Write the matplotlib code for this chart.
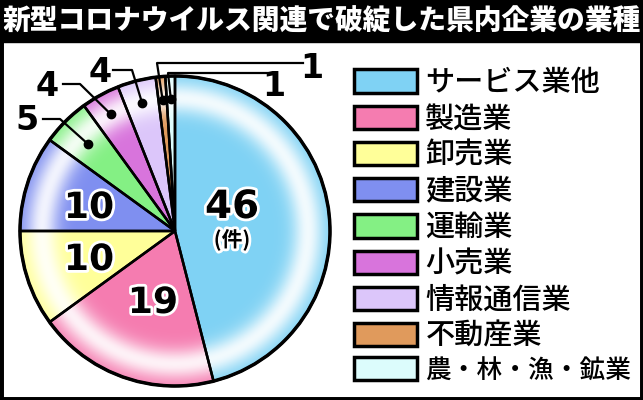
import numpy as np
import matplotlib.pyplot as plt
from matplotlib.patches import Rectangle, Circle, Patch
import matplotlib.patheffects as pe

plt.rcParams['font.family'] = ['Noto Sans CJK JP', 'DejaVu Sans']

# ===== DATA =====
title = "新型コロナウイルス関連で破綻した県内企業の業種"
categories = ["サービス業他", "製造業", "卸売業", "建設業", "運輸業",
              "小売業", "情報通信業", "不動産業", "農・林・漁・鉱業"]
counts = [46, 19, 10, 10, 5, 4, 4, 1, 1]
colors = ["#7fd2f4", "#f57cb0", "#ffff99", "#7f8ff0", "#84f084",
          "#d874dc", "#dcc6fa", "#e09a5c", "#dcfcfc"]

# ===== SETUP (pixel coordinates, y measured from the top) =====
W, H = 643, 400


def py(y):
    return H - y


fig = plt.figure(figsize=(W / 100, H / 100), dpi=100)
ax = fig.add_axes([0, 0, 1, 1])

cx, cy, R = 175, py(231), 155

# filled wedges
wedges, _ = ax.pie(counts, colors=colors, startangle=90, counterclock=False,
                   center=(cx, cy), radius=R,
                   wedgeprops=dict(linewidth=0, zorder=1))

# whitish ring highlight
n = 400
g = np.linspace(-1, 1, n)
xx, yy = np.meshgrid(g, g)
rr = np.hypot(xx, yy)
img = np.ones((n, n, 4))
img[..., 3] = 0.9 * np.exp(-((rr - 0.86) / 0.1) ** 2)
im = ax.imshow(img, extent=(cx - R, cx + R, cy - R, cy + R), zorder=2,
               interpolation='bilinear')
im.set_clip_path(Circle((cx, cy), R, transform=ax.transData))

# wedge outlines
ax.pie(counts, startangle=90, counterclock=False, center=(cx, cy), radius=R,
       wedgeprops=dict(fill=False, edgecolor='black', linewidth=1.8, zorder=3))
ax.add_patch(Circle((cx, cy), R, fill=False, edgecolor='black', linewidth=2.5, zorder=4))

# inside labels
stroke = [pe.withStroke(linewidth=4, foreground='white')]
inside = [(0, 232, 207, 28), (1, 153, 303, 26), (2, 89, 260, 26), (3, 89, 208, 26)]
for i, x, y, fs in inside:
    ax.text(x, py(y), str(counts[i]), fontsize=fs, weight='bold', ha='center',
            va='center', zorder=5, path_effects=stroke, family='DejaVu Sans')
ax.text(232, py(240), "(件)", fontsize=15, weight='bold', ha='center', va='center',
        zorder=5, path_effects=stroke)

# outside labels with leader lines
leaders = [
    (4, (27, 120), (43, 119), (60, 119), 0.79),
    (5, (47, 86), (63, 84), (80, 84), 0.86),
    (6, (100, 73), (113, 70), (132, 70), 0.85),
    (7, (312, 69), (303, 63), (157, 63), 0.85),
    (8, (274, 86), (267, 73), (168, 73), 0.85),
]
for i, (tx, ty), (x0, y0), (x1, y1), rf in leaders:
    w = wedges[i]
    ang = np.deg2rad((w.theta1 + w.theta2) / 2)
    dx, dy = cx + rf * R * np.cos(ang), cy + rf * R * np.sin(ang)
    ax.plot([x0, x1, dx], [py(y0), py(y1), dy], color='black', lw=1.6, zorder=5)
    ax.plot(dx, dy, 'o', color='black', ms=6, zorder=6)
    ax.text(tx, py(ty), str(counts[i]), fontsize=24, weight='bold', ha='center',
            va='center', zorder=6, family='DejaVu Sans')

# legend
handles = [Patch(facecolor=c, edgecolor='black', linewidth=2.5) for c in colors]
leg = ax.legend(handles, categories, loc='upper left',
                bbox_to_anchor=(354 / W, 1 - 67 / H),
                frameon=False, prop={'size': 21, 'weight': 'medium'},
                handlelength=2.15, handleheight=0.85, handletextpad=0.3,
                labelspacing=0.18, borderaxespad=0, borderpad=0)
leg.get_texts()[-1].set_fontsize(18.5)

# title bar and frame
ax.add_patch(Rectangle((0, py(42)), W, 42, color='black', zorder=7))
ax.text(W / 2, py(22), title, color='white', fontsize=20, weight='heavy',
        ha='center', va='center', zorder=8)
ax.add_patch(Rectangle((0, 0), W, H, fill=False, edgecolor='black', linewidth=5,
                       zorder=9, clip_on=False))

ax.set_xlim(0, W)
ax.set_ylim(0, H)
ax.axis('off')

fig.savefig("out.png", dpi=100)
